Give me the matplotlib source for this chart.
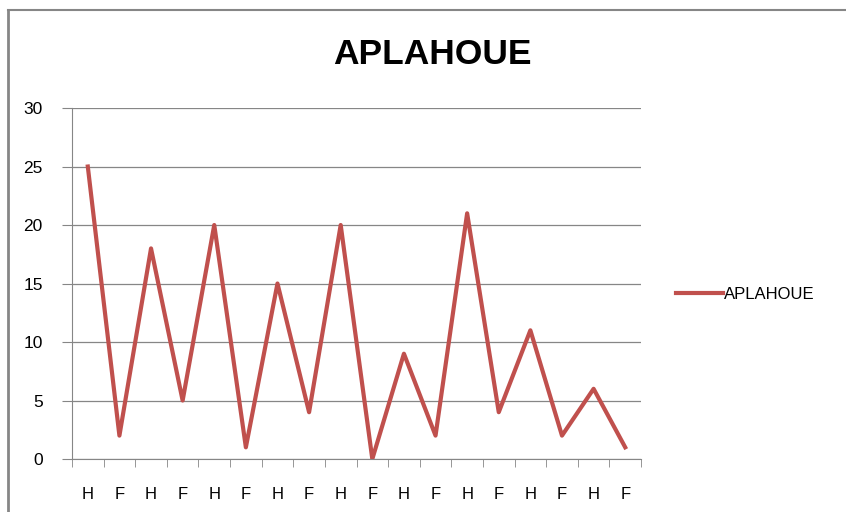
import matplotlib.pyplot as plt
from matplotlib.lines import Line2D

plt.rcParams['font.family'] = ['Liberation Sans Narrow', 'Liberation Sans', 'DejaVu Sans']

labels = ['H', 'F', 'H', 'F', 'H', 'F', 'H', 'F', 'H', 'F', 'H', 'F', 'H', 'F', 'H', 'F', 'H', 'F']
values = [25, 2, 18, 5, 20, 1, 15, 4, 20, 0, 9, 2, 21, 4, 11, 2, 6, 1]

fig = plt.figure(figsize=(8.46, 5.12), dpi=100)
ax = fig.add_axes([0.0851, 0.1035, 0.6726, 0.6855])

x = list(range(len(values)))
ax.plot(x, values, color='#C0504D', linewidth=3.0, label='APLAHOUE')

ax.set_xlim(-0.5, len(values) - 0.5)
ax.set_ylim(0, 30)
ax.set_yticks(range(0, 31, 5))
ax.set_xticks(x)
ax.set_xticklabels(labels)
ax.set_xticks([i - 0.5 for i in range(len(values) + 1)], minor=True)
ax.tick_params(axis='x', which='major', length=0, pad=20, labelsize=12)
ax.tick_params(axis='x', which='minor', length=6, color='#868686', direction='out')
ax.tick_params(axis='y', length=7, color='#868686', labelsize=12.5, pad=14)

ax.grid(axis='y', color='#868686', linewidth=0.9)
ax.set_axisbelow(True)
for s in ['top', 'right']:
    ax.spines[s].set_visible(False)
for s in ['left', 'bottom']:
    ax.spines[s].set_color('#868686')

fig.text(0.511, 0.893, 'APLAHOUE', ha='center', va='center', fontsize=25.5, fontweight='bold')

ax.legend(loc='center left', bbox_to_anchor=(1.035, 0.47), frameon=False,
          fontsize=12, handlelength=2.8, handletextpad=0.1)

# outer chart border (top and left visible)
fig.add_artist(Line2D([0.0095, 0.0095], [0, 0.98], color='#868686', linewidth=2))
fig.add_artist(Line2D([0.0095, 1.0], [0.98, 0.98], color='#868686', linewidth=1.5))

fig.savefig('out.png', dpi=100)
